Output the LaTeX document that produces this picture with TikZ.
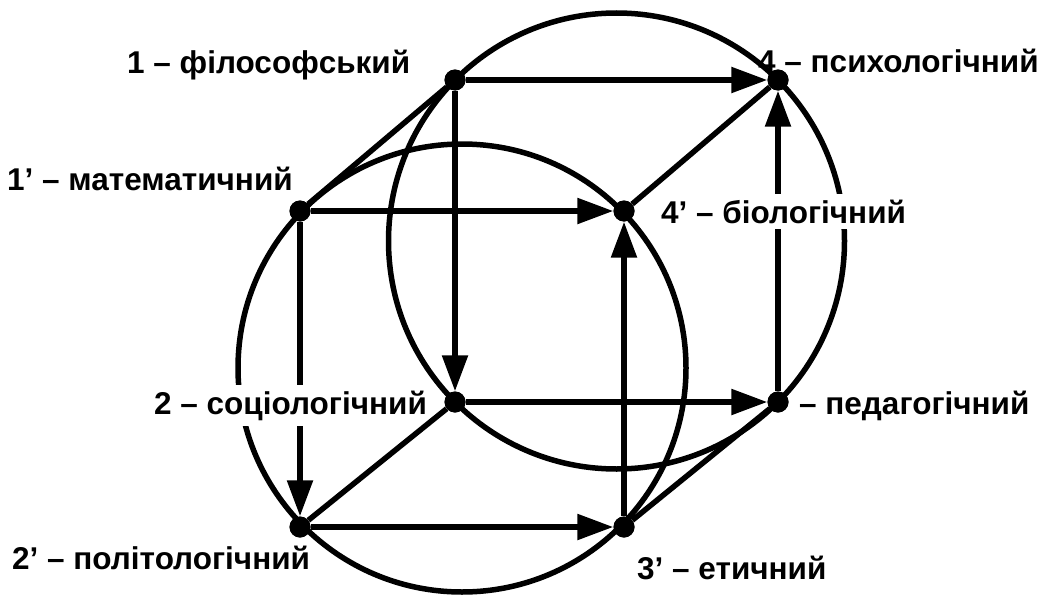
\documentclass[tikz,border=0pt]{standalone}
\usepackage{fontspec}
\setmainfont{Liberation Sans}
\usetikzlibrary{arrows.meta}
\begin{document}
\begin{tikzpicture}[x=1pt,y=-1pt,
  ln/.style={line width=5.5pt},
  arr/.style={ln,-{Triangle[length=36pt,width=25pt]}},
  dot/.style={circle,fill=black,inner sep=0pt,minimum size=21pt},
  lbl/.style={font=\fontsize{31.5}{38}\selectfont\bfseries,inner xsep=2pt,inner ysep=6pt,anchor=base west},
  wlbl/.style={lbl,fill=white}]
\useasboundingbox[fill=white] (0,0) rectangle (1046,594);
% label drawn under the circle
\node[lbl] (l4) at (756,73) {4 – психологічний};
% dots as anchors
\node[dot] (n1) at (455,80) {};
\node[dot] (n4) at (778,80) {};
\node[dot] (n2) at (455,402) {};
\node[dot] (n3) at (778,402) {};
\node[dot] (m1) at (300,211) {};
\node[dot] (m4) at (624,211) {};
\node[dot] (m2) at (300,527) {};
\node[dot] (m3) at (624,527) {};
% circles
\coordinate (cb) at (616.5,241);
\coordinate (cf) at (462,368);
\draw[ln] (cb) circle[radius=228];
\draw[ln] (cf) circle[radius=224];
% arrows
\draw[arr] (n1) -- (n4);
\draw[arr] (n1) -- (n2);
\draw[arr] (n2) -- (n3);
\draw[arr] (n3) -- (n4);
\draw[arr] (m1) -- (m4);
\draw[arr] (m1) -- (m2);
\draw[arr] (m2) -- (m3);
\draw[arr] (m3) -- (m4);
% labels that cut lines
\node[wlbl] (l2) at (152,414) {2 – соціологічний};
\node[wlbl] (l4p) at (659,223) {4’ – біологічний};
% plain connectors
\draw[ln] (n1) -- (m1);
\draw[ln] (n4) -- (m4);
\draw[ln] (n2) -- (m2);
\draw[ln] (n3) -- (m3);
% dots on top
\foreach \n/\p in {a/{455,80},b/{778,80},c/{455,402},d/{778,402},e/{300,211},f/{624,211},g/{300,527},h/{624,527}}
  \node[dot] (d\n) at (\p) {};
% other labels
\node[lbl] (l1) at (125,74) {1 – філософський};
\node[lbl] (l1p) at (5,190) {1’ – математичний};
\node[lbl] (l3) at (797,414) {– педагогічний};
\node[lbl] (l2p) at (10,569) {2’ – політологічний};
\node[lbl] (l3p) at (635,579) {3’ – етичний};
\end{tikzpicture}
\end{document}
